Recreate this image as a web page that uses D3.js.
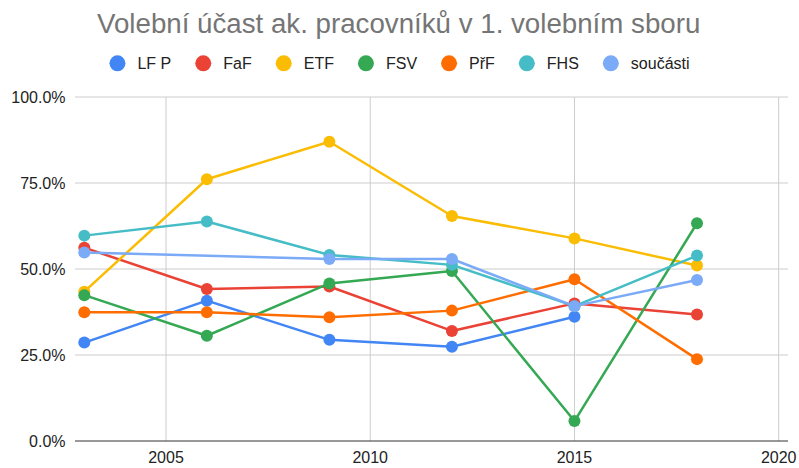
<!DOCTYPE html>
<html>
<head>
<meta charset="utf-8">
<script src="https://cdn.jsdelivr.net/npm/d3@7"></script>
<style>
  body { margin: 0; background: #fff; }
  text { font-family: "Liberation Sans", Arial, sans-serif; }
</style>
</head>
<body>
<script>
const title = "Volební účast ak. pracovníků v 1. volebním sboru";
const years = [2003, 2006, 2009, 2012, 2015, 2018];
const seriesNames = ["LF P", "FaF", "ETF", "FSV", "PřF", "FHS", "součásti"];
const colors = ["#4285f4", "#ea4335", "#fbbc04", "#34a853", "#ff6d01", "#46bdc6", "#7baaf7"];
const lfp = [28.6, 40.8, 29.4, 27.4, 36.1, null];
const faf = [56.2, 44.2, 44.9, 32.0, 40.0, 36.8];
const etf = [43.4, 76.1, 87.0, 65.4, 58.9, 51.0];
const fsv = [42.4, 30.6, 45.8, 49.4, 5.8, 63.3];
const prf = [37.4, 37.4, 36.0, 37.9, 47.0, 23.8];
const fhs = [59.7, 63.8, 54.1, 51.2, 39.2, 53.9];
const soucasti = [54.8, null, 52.9, 52.9, 39.2, 46.8];
const yTicks = [0, 25, 50, 75, 100];
const xTicks = [2005, 2010, 2015, 2020];

const allSeries = [lfp, faf, etf, fsv, prf, fhs, soucasti];

const W = 799, H = 468;
const plotLeft = 75, plotRight = 788, plotTop = 97, plotBottom = 441;

const svg = d3.select("body").append("svg")
    .attr("width", W)
    .attr("height", H);

const x = d3.scaleLinear()
    .domain([2005, 2020])
    .range([166, 778.7]);

const y = d3.scaleLinear()
    .domain([0, 100])
    .range([plotBottom, plotTop]);

// title
svg.append("text")
    .attr("x", 97)
    .attr("y", 33)
    .attr("font-size", 27.7)
    .attr("fill", "#757575")
    .text(title);

// legend, laid out one item after another and centred
const legend = svg.append("g");
let lx = 0;
seriesNames.forEach(function(name, i) {
    const g = legend.append("g").attr("transform", `translate(${lx},0)`);
    g.append("circle")
        .attr("cx", 8).attr("cy", 0).attr("r", 8)
        .attr("fill", colors[i]);
    const t = g.append("text")
        .attr("x", 28).attr("y", 6)
        .attr("font-size", 16)
        .attr("fill", "#222")
        .text(name);
    lx += 28 + t.node().getComputedTextLength() + 24;
});
lx -= 24;
legend.attr("transform", `translate(${399.5 - lx / 2},63.3)`);

// gridlines
svg.append("g")
    .selectAll("line")
    .data(yTicks.filter(d => d > 0))
    .enter().append("line")
    .attr("x1", plotLeft).attr("x2", plotRight)
    .attr("y1", d => y(d)).attr("y2", d => y(d))
    .attr("stroke", "#cccccc");

svg.append("g")
    .selectAll("line")
    .data(xTicks)
    .enter().append("line")
    .attr("x1", d => x(d)).attr("x2", d => x(d))
    .attr("y1", plotTop).attr("y2", plotBottom)
    .attr("stroke", "#cccccc");

// y labels
svg.append("g")
    .selectAll("text")
    .data(yTicks)
    .enter().append("text")
    .attr("x", 65.5)
    .attr("y", d => y(d) + 6)
    .attr("text-anchor", "end")
    .attr("font-size", 16)
    .attr("fill", "#222")
    .text(d => d3.format(".1f")(d) + "%");

// x labels
svg.append("g")
    .selectAll("text")
    .data(xTicks)
    .enter().append("text")
    .attr("x", d => x(d))
    .attr("y", 463)
    .attr("text-anchor", "middle")
    .attr("font-size", 16)
    .attr("fill", "#222")
    .text(d => d);

// baseline
svg.append("line")
    .attr("x1", plotLeft).attr("x2", plotRight)
    .attr("y1", plotBottom).attr("y2", plotBottom)
    .attr("stroke", "#333")
    .attr("stroke-width", 1);

// lines and points
const line = d3.line()
    .x(d => x(d.year))
    .y(d => y(d.v));

allSeries.forEach(function(values, i) {
    const pts = years.map((year, j) => ({ year: year, v: values[j] }));
    const present = pts.filter(d => d.v != null);
    const g = svg.append("g");
    g.append("path")
        .datum(present)
        .attr("d", line)
        .attr("fill", "none")
        .attr("stroke", colors[i])
        .attr("stroke-width", 2.5)
        .attr("stroke-linejoin", "round");
    g.selectAll("circle")
        .data(present)
        .enter().append("circle")
        .attr("cx", d => x(d.year))
        .attr("cy", d => y(d.v))
        .attr("r", 6)
        .attr("fill", colors[i]);
});
</script>
</body>
</html>
